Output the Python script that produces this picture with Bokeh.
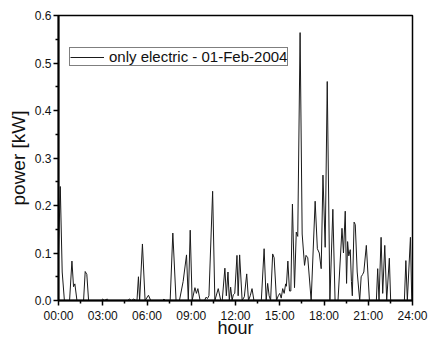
from bokeh.plotting import figure
from bokeh.models import Range1d, FixedTicker
from bokeh.embed import file_html
from bokeh.resources import INLINE

# ---------------- data ----------------
hours = [
    0.00, 0.12, 0.25, 0.40, 0.75, 0.91, 1.02, 1.11, 1.25, 1.70, 1.81, 1.92, 2.04,
    2.90, 3.00, 3.10, 3.30, 3.40, 4.70, 4.80, 4.95, 5.10, 5.25, 5.32, 5.42, 5.50,
    5.69, 5.87, 6.10, 6.25, 7.05, 7.15, 7.25, 7.57, 7.75, 7.97, 8.20, 8.45, 8.68,
    8.80, 8.93, 9.06, 9.25, 9.35, 9.45, 9.60, 9.90, 10.00, 10.10, 10.20, 10.45,
    10.60, 10.83, 11.00, 11.10, 11.28, 11.38, 11.49, 11.58, 11.67, 11.77, 11.85,
    11.95, 12.10, 12.18, 12.28, 12.45, 12.60, 12.76, 12.88, 13.00, 13.12, 13.25,
    13.75, 13.94, 14.08, 14.18, 14.28, 14.38, 14.52, 14.62, 14.78, 14.90, 15.00,
    15.10, 15.20, 15.30, 15.40, 15.45, 15.55, 15.66, 15.75, 15.86, 16.00, 16.12,
    16.22, 16.38, 16.52, 16.68, 16.78, 16.90, 17.13, 17.40, 17.55, 17.68, 17.81,
    17.93, 18.08, 18.22, 18.40, 18.60, 18.75, 18.95, 19.22, 19.32, 19.44, 19.53,
    19.60, 19.68, 19.78, 19.86, 19.92, 20.04, 20.12, 20.25, 20.42, 20.52, 20.62,
    20.70, 20.87, 21.08, 21.55, 21.64, 21.73, 21.87, 21.98, 22.12, 22.25, 22.43,
    22.52, 23.45, 23.55, 23.65, 23.86, 23.95, 24.00,
]
power_kw = [
    0.100, 0.240, 0.060, 0.000, 0.000, 0.083, 0.029, 0.035, 0.000, 0.000, 0.061, 0.055, 0.000,
    0.000, 0.003, 0.000, 0.003, 0.000, 0.000, 0.003, 0.000, 0.003, 0.000, 0.000, 0.050, 0.000,
    0.119, 0.000, 0.011, 0.000, 0.000, 0.003, 0.000, 0.000, 0.142, 0.000, 0.000, 0.040, 0.096,
    0.000, 0.148, 0.000, 0.027, 0.015, 0.025, 0.000, 0.000, 0.007, 0.004, 0.010, 0.230,
    0.000, 0.025, 0.000, 0.000, 0.068, 0.010, 0.060, 0.000, 0.028, 0.000, 0.012,
    0.015, 0.095, 0.010, 0.096, 0.000, 0.008, 0.056, 0.000, 0.010, 0.025, 0.000,
    0.000, 0.109, 0.000, 0.036, 0.010, 0.000, 0.098, 0.090, 0.000, 0.010, 0.015,
    0.005, 0.025, 0.015, 0.035, 0.030, 0.083, 0.020, 0.020, 0.203, 0.027, 0.144,
    0.135, 0.564, 0.140, 0.074, 0.095, 0.090, 0.000, 0.209, 0.109, 0.100, 0.067,
    0.264, 0.112, 0.461, 0.000, 0.192, 0.000, 0.000, 0.152, 0.100, 0.188, 0.036,
    0.124, 0.094, 0.107, 0.040, 0.010, 0.165, 0.160, 0.060, 0.000, 0.050, 0.055,
    0.060, 0.116, 0.000, 0.000, 0.067, 0.000, 0.133, 0.015, 0.116, 0.000, 0.089,
    0.000, 0.000, 0.084, 0.000, 0.133, 0.000, 0.000,
]
series_label = "only electric - 01-Feb-2004"
x_ticks = [0, 3, 6, 9, 12, 15, 18, 21, 24]
x_tick_labels = ["00:00", "03:00", "06:00", "09:00", "12:00", "15:00", "18:00", "21:00", "24:00"]
y_ticks = [0.0, 0.1, 0.2, 0.3, 0.4, 0.5, 0.6]
y_tick_labels = ["0.0", "0.1", "0.2", "0.3", "0.4", "0.5", "0.6"]
x_title = "hour"
y_title = "power [kW]"

FONT = "Liberation Sans"

p = figure(width=429, height=340, output_backend="svg", toolbar_location=None,
           x_range=Range1d(0, 24), y_range=Range1d(0, 0.6),
           min_border_left=58, min_border_right=17, min_border_top=15, min_border_bottom=38)
p.background_fill_color = "white"
p.border_fill_color = "white"
p.outline_line_color = "black"
p.outline_line_width = 1.5
p.xgrid.visible = False
p.ygrid.visible = False

p.line(hours, power_kw, line_color="#1a1a1a", line_width=1, legend_label=series_label)

x_minor = [(a + b) / 2 for a, b in zip(x_ticks[:-1], x_ticks[1:])]
y_minor = [(a + b) / 2 for a, b in zip(y_ticks[:-1], y_ticks[1:])]
p.xaxis.ticker = FixedTicker(ticks=x_ticks, minor_ticks=x_minor)
p.yaxis.ticker = FixedTicker(ticks=y_ticks, minor_ticks=y_minor)
p.xaxis.major_label_overrides = {t: l for t, l in zip(x_ticks, x_tick_labels)}
p.yaxis.major_label_overrides = {t: l for t, l in zip(y_ticks, y_tick_labels)}

for ax in (p.xaxis, p.yaxis):
    ax.axis_line_width = 2
    ax.axis_line_color = "black"
    ax.major_tick_in = 0
    ax.major_tick_out = 5
    ax.minor_tick_in = 0
    ax.minor_tick_out = 3
    ax.major_tick_line_width = 1.5
    ax.minor_tick_line_width = 1.5
    ax.major_tick_line_color = "black"
    ax.minor_tick_line_color = "black"
    ax.major_label_text_font = FONT
    ax.major_label_text_font_size = "12px"
    ax.major_label_text_color = "#111111"
    ax.axis_label_text_font = FONT
    ax.axis_label_text_font_style = "normal"
    ax.axis_label_text_color = "#111111"
p.xaxis.axis_label_text_font_size = "18px"
p.yaxis.axis_label_text_font_size = "19px"
p.xaxis.major_label_standoff = 3
p.yaxis.major_label_standoff = 2
p.xaxis.axis_label = x_title
p.yaxis.axis_label = y_title
p.xaxis.axis_label_standoff = -8
p.yaxis.axis_label_standoff = 3

lg = p.legend[0]
lg.location = (11, 234)
lg.margin = 0
lg.padding = 0
lg.spacing = 0
lg.glyph_width = 34
lg.glyph_height = 12
lg.label_height = 12
lg.label_standoff = 5
lg.label_text_font = FONT
lg.label_text_font_size = "15px"
lg.label_text_color = "#111111"
lg.border_line_color = "black"
lg.border_line_width = 1.5
lg.background_fill_color = "white"
lg.background_fill_alpha = 1.0

open("out.html", "w").write(file_html(p, INLINE))
